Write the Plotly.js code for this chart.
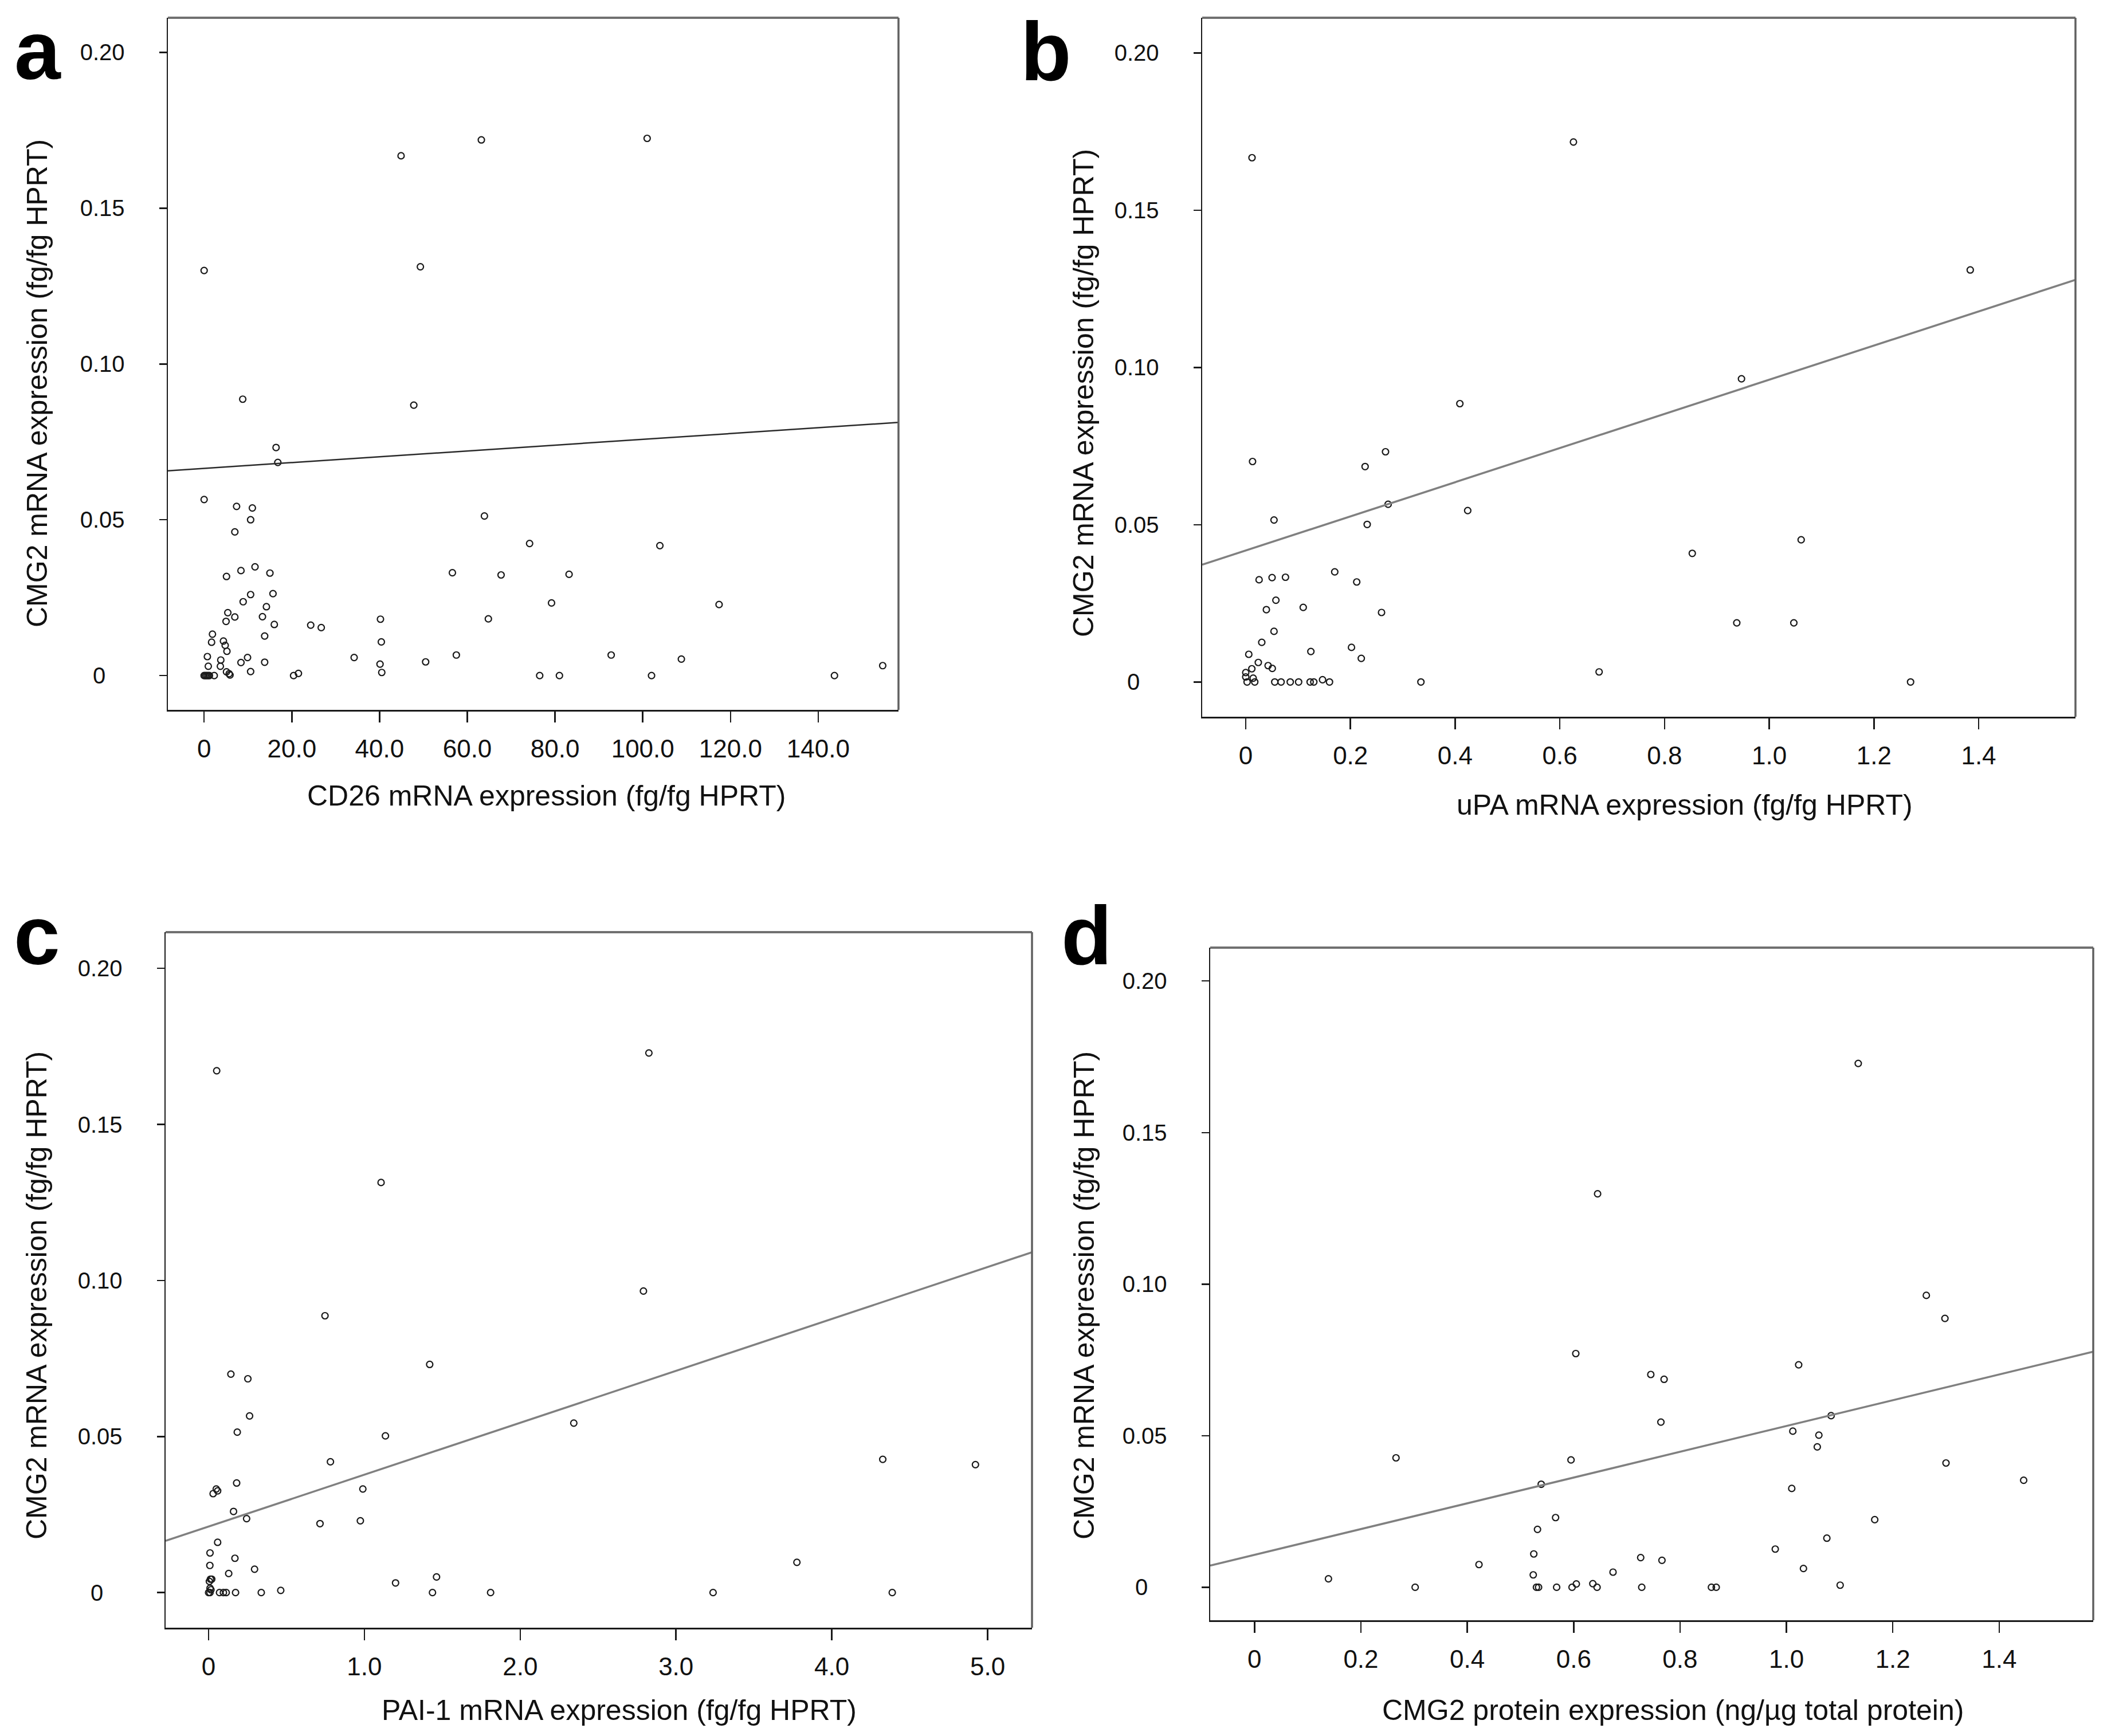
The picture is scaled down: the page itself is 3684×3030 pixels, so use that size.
<!DOCTYPE html>
<html>
<head>
<meta charset="utf-8">
<script src="https://cdn.plot.ly/plotly-3.0.1.min.js"></script>
<style>html,body{margin:0;padding:0;background:#fff;} #chart{width:3684px;height:3030px;}</style>
</head>
<body>
<div id="chart"></div>
<script>
// ---------------- DATA ----------------
const aX = [0, 8.8, 16.4, 16.8, 0, 7.4, 11.0, 10.6, 7.0, 8.4, 11.6, 15.0,
  44.9, 63.2, 101.0, 49.3, 47.8, 63.9, 74.2, 103.9, 56.6, 67.7, 83.2, 79.2, 117.4, 64.8, 57.5, 92.8, 108.8, 76.5, 81.0, 102.0, 143.7, 154.7,
  5.1, 10.6, 15.7, 8.9, 14.2, 5.4, 7.0, 5.0, 13.3, 16.0, 24.3, 26.7, 40.2, 1.9, 1.7, 4.4, 4.8, 5.2, 13.8, 40.4,
  0.74, 3.8, 9.9, 8.4, 13.8, 34.2, 50.5, 0.95, 3.7, 40.1, 40.5, 10.6, 5.1, 5.9, 5.7, 2.3, 0, 0.3, 0.6, 0.9, 1.2, 20.4, 21.5];
const aY = [0.130, 0.0887, 0.0732, 0.0684, 0.0565, 0.0543, 0.0538, 0.0500, 0.0461, 0.0337, 0.0349, 0.0329,
  0.1668, 0.1719, 0.1724, 0.1312, 0.0868, 0.0512, 0.0424, 0.0417, 0.0330, 0.0323, 0.0325, 0.0233, 0.0228, 0.0182, 0.0066, 0.0066, 0.0053, 0, 0, 0, 0, 0.0032,
  0.0318, 0.0260, 0.0263, 0.0237, 0.0221, 0.0202, 0.0188, 0.0174, 0.0189, 0.0164, 0.0162, 0.0154, 0.0181, 0.0133, 0.0107, 0.0111, 0.0097, 0.0078, 0.0127, 0.0108,
  0.0061, 0.0050, 0.0058, 0.0042, 0.0043, 0.0058, 0.0044, 0.0030, 0.0030, 0.0037, 0.0010, 0.0013, 0.0012, 0.0002, 0.0006, 0, 0, 0, 0, 0, 0, 0, 0.0007];

const bX = [0.012, 0.626, 1.384, 0.947, 0.409, 0.013, 0.267, 0.228, 0.272, 0.424, 0.054, 0.232, 0.853, 1.061, 0.675, 0.938, 1.047, 1.270,
  0.0255, 0.0503, 0.0759, 0.170, 0.212, 0.0576, 0.0394, 0.1098, 0.2594, 0.054, 0.0306, 0.202, 0.1244, 0.2207, 0.0058, 0.024, 0.0116, 0.0427, 0.0507,
  0, 0, 0.0142, 0.0026, 0.0172, 0.0554, 0.0675, 0.085, 0.101, 0.123, 0.130, 0.1467, 0.160, 0.3346];
const bY = [0.1667, 0.1717, 0.1310, 0.0964, 0.0885, 0.0701, 0.0732, 0.0685, 0.0565, 0.0545, 0.0515, 0.0501, 0.0409, 0.0452, 0.0032, 0.0188, 0.0188, 0,
  0.0325, 0.0332, 0.0333, 0.0350, 0.0318, 0.0260, 0.0230, 0.0237, 0.0221, 0.0161, 0.0126, 0.0110, 0.0097, 0.0075, 0.0088, 0.0062, 0.0042, 0.0052, 0.0043,
  0.0030, 0.0016, 0.0012, 0, 0, 0, 0, 0, 0, 0, 0, 0.0007, 0, 0];

const cX = [0.052, 2.826, 1.107, 2.791, 0.747, 1.419, 0.143, 0.252, 0.263, 2.344, 0.184, 1.135, 0.782, 4.327, 4.922, 0.180, 0.049, 0.058, 0.029, 0.990,
  0.160, 0.244, 0.715, 0.974, 0.058, 0.009, 0.169, 0.008, 0.295, 0.129, 1.200, 1.463, 0.463, 0.338, 1.437, 1.810, 3.238, 3.776, 4.388, 0.173,
  0.113, 0.095, 0.070, 0.009, 0, 0.012, 0.020, 0.005, 0.009, 0.015];
const cY = [0.1672, 0.1729, 0.1314, 0.0966, 0.0887, 0.0731, 0.0700, 0.0685, 0.0566, 0.0543, 0.0514, 0.0502, 0.0419, 0.0427, 0.0410, 0.0351, 0.0332, 0.0326, 0.0317, 0.0332,
  0.0260, 0.0237, 0.0221, 0.0230, 0.0161, 0.0127, 0.0110, 0.0087, 0.0075, 0.0061, 0.0031, 0.0050, 0.0007, 0, 0, 0, 0, 0.0097, 0, 0,
  0, 0, 0, 0, 0, 0.0043, 0.0043, 0.0036, 0.0014, 0.0009];

const dX = [1.135, 0.645, 1.263, 1.298, 0.604, 1.023, 0.745, 0.770, 0.764, 1.084, 1.012, 1.061, 1.058, 0.266, 0.595, 1.300, 1.446, 0.539, 1.010, 0.566,
  1.166, 0.532, 1.076, 0.979, 0.525, 0.726, 0.766, 0.422, 1.032, 0.674, 0.524, 0.139, 0.302, 0.530, 0.534, 0.568, 0.597, 0.605, 0.636, 0.644,
  0.728, 0.859, 0.868, 1.101];
const dY = [0.1728, 0.1298, 0.0963, 0.0887, 0.0771, 0.0734, 0.0702, 0.0686, 0.0545, 0.0566, 0.0515, 0.0502, 0.0463, 0.0427, 0.0420, 0.0410, 0.0353, 0.0340, 0.0326, 0.0230,
  0.0223, 0.0191, 0.0162, 0.0126, 0.0110, 0.0098, 0.0089, 0.0075, 0.0062, 0.0050, 0.0041, 0.0028, 0, 0, 0, 0, 0, 0.0011, 0.0012, 0,
  0, 0, 0, 0.0007];

// linear fit lines (intercept, slope) per panel
const fitIntercepts = [0.0665, 0.0418, 0.02115, 0.0107];
const fitSlopes = [0.0000931, 0.0543, 0.01663, 0.0425];

// tick values / labels
const yTickVals = [0, 0.05, 0.10, 0.15, 0.20];
const yTickText = ['0\u2007\u2008', '0.05', '0.10', '0.15', '0.20'];
const aTickVals = [0, 20, 40, 60, 80, 100, 120, 140];
const aTickText = ['0', '20.0', '40.0', '60.0', '80.0', '100.0', '120.0', '140.0'];
const bTickVals = [0, 0.2, 0.4, 0.6, 0.8, 1.0, 1.2, 1.4];
const bTickText = ['0', '0.2', '0.4', '0.6', '0.8', '1.0', '1.2', '1.4'];
const cTickVals = [0, 1, 2, 3, 4, 5];
const cTickText = ['0', '1.0', '2.0', '3.0', '4.0', '5.0'];
const dTickVals = bTickVals;
const dTickText = bTickText;

const panelLetters = ['a', 'b', 'c', 'd'];
const xTitles = ['CD26 mRNA expression (fg/fg HPRT)', 'uPA mRNA expression (fg/fg HPRT)',
  'PAI-1 mRNA expression (fg/fg HPRT)', 'CMG2 protein expression (ng/\u00b5g total protein)'];
const yTitle = 'CMG2 mRNA expression (fg/fg HPRT)';

// ---------------- LAYOUT (pixel geometry) ----------------
const W = 3684, H = 3030;
const boxes = [ // left, right, top, bottom in px
  [293, 1568, 31, 1239],
  [2098, 3622, 31, 1251],
  [289, 1801, 1627, 2841],
  [2112, 3653, 1654, 2828]
];
const xRanges = [[-8.26, 158.3], [-0.0832, 1.585], [-0.276, 5.285], [-0.0833, 1.5768]];
const yRanges = [[-0.011, 0.2111], [-0.01106, 0.2112], [-0.01126, 0.2116], [-0.01088, 0.2110]];
const xTitlePos = [[953, 1389], [2940, 1405], [1080, 2985], [2919, 2985]];
const yTitlePos = [[65, 669], [1891, 686], [64, 2261], [1892, 2261]];
const letterPos = [[23, 139], [1779, 141], [22, 1684], [1850, 1684]];
const lineColors = ['#2a2a2a', '#808080', '#808080', '#808080'];
const lineWidths = [2.5, 3.5, 3.5, 3.5];

const px = v => v / W;
const py = v => 1 - v / H;

const xs = [aX, bX, cX, dX], ys = [aY, bY, cY, dY];
const xTickV = [aTickVals, bTickVals, cTickVals, dTickVals];
const xTickT = [aTickText, bTickText, cTickText, dTickText];

const FONT = 'Liberation Sans, Arial, Helvetica, sans-serif';
const data = [];
const layout = {
  width: W, height: H,
  margin: {l: 0, r: 0, t: 0, b: 0},
  paper_bgcolor: '#ffffff', plot_bgcolor: '#ffffff',
  showlegend: false,
  font: {family: FONT, color: '#111'},
  shapes: [], annotations: []
};

for (let i = 0; i < 4; i++) {
  const n = i === 0 ? '' : String(i + 1);
  const xa = 'x' + n, ya = 'y' + n;
  const b = boxes[i];
  data.push({
    type: 'scatter', mode: 'markers', x: xs[i], y: ys[i], xaxis: xa, yaxis: ya,
    marker: {symbol: 'circle-open', size: 11, color: '#1a1a1a', line: {width: 2.2, color: '#1a1a1a'}},
    cliponaxis: false, hoverinfo: 'skip'
  });
  const xr = xRanges[i];
  data.push({
    type: 'scatter', mode: 'lines', xaxis: xa, yaxis: ya,
    x: [xr[0], xr[1]],
    y: [fitIntercepts[i] + fitSlopes[i] * xr[0], fitIntercepts[i] + fitSlopes[i] * xr[1]],
    line: {color: lineColors[i], width: lineWidths[i]}, hoverinfo: 'skip'
  });
  layout['xaxis' + n] = {
    domain: [px(b[0]), px(b[1])], range: xr, anchor: ya,
    showline: true, linecolor: '#1a1a1a', linewidth: 2.5,
    ticks: 'outside', ticklen: 19, tickwidth: 2.5, tickcolor: '#1a1a1a',
    tickvals: xTickV[i], ticktext: xTickT[i],
    tickfont: {family: FONT, size: 44, color: '#111'},
    ticklabelstandoff: 9,
    showgrid: false, zeroline: false, fixedrange: true
  };
  layout['yaxis' + n] = {
    domain: [py(b[3]), py(b[2])], range: yRanges[i], anchor: xa,
    showline: true, linecolor: '#1a1a1a', linewidth: 2.5,
    ticks: 'outside', ticklen: 13, tickwidth: 2.5, tickcolor: '#1a1a1a',
    tickvals: yTickVals, ticktext: yTickText,
    tickfont: {family: FONT, size: 40, color: '#111'},
    ticklabelstandoff: 52,
    showgrid: false, zeroline: false, fixedrange: true
  };
  // top and right frame (gray)
  layout.shapes.push({type: 'line', xref: xa + ' domain', yref: ya + ' domain', x0: 0, x1: 1, y0: 1, y1: 1,
    line: {color: '#707070', width: 4}});
  layout.shapes.push({type: 'line', xref: xa + ' domain', yref: ya + ' domain', x0: 1, x1: 1, y0: 0, y1: 1,
    line: {color: '#606060', width: 3.5}});
  // axis titles
  layout.annotations.push({xref: 'paper', yref: 'paper', x: px(xTitlePos[i][0]), y: py(xTitlePos[i][1]),
    xanchor: 'center', yanchor: 'middle', showarrow: false, text: xTitles[i],
    font: {family: FONT, size: 50, color: '#111'}});
  layout.annotations.push({xref: 'paper', yref: 'paper', x: px(yTitlePos[i][0]), y: py(yTitlePos[i][1]),
    xanchor: 'center', yanchor: 'middle', showarrow: false, text: yTitle, textangle: -90,
    font: {family: FONT, size: 50, color: '#111'}});
  // panel letters
  layout.annotations.push({xref: 'paper', yref: 'paper', x: px(letterPos[i][0]), y: py(letterPos[i][1] - 0.35 * 145),
    xanchor: 'left', yanchor: 'middle', showarrow: false, text: '<b>' + panelLetters[i] + '</b>',
    font: {family: FONT, size: 145, color: '#000'}});
}

Plotly.newPlot('chart', data, layout, {staticPlot: true, displayModeBar: false});
</script>
</body>
</html>
